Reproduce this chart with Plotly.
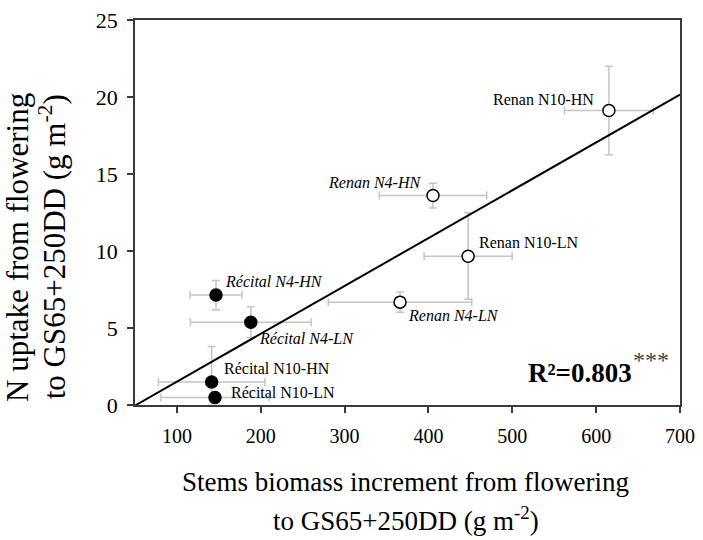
import numpy as np
import plotly.graph_objects as go

# ---- data ----
labels = ["Récital N4-HN", "Récital N4-LN", "Récital N10-HN", "Récital N10-LN",
          "Renan N4-LN", "Renan N10-LN", "Renan N4-HN", "Renan N10-HN"]
cultivar = ["Récital"] * 4 + ["Renan"] * 4
stem_biomass = [146.6, 188.1, 141.4, 145.4, 366.1, 447.3, 405.4, 615.2]
stem_err = [31, 72, 63.5, 64.5, 85.5, 52.5, 64, 53]
n_uptake = [7.14, 5.38, 1.50, 0.49, 6.68, 9.66, 13.60, 19.12]
n_err = [0.95, 1.0, 2.3, 0.3, 0.65, 2.8, 0.8, 2.87]
italic = [True, True, False, False, True, False, True, False]
r2_text = "R²=0.803"
signif = "***"
x_title = ["Stems biomass increment from flowering", "to GS65+250DD (g m<sup>-2</sup>)"]
y_title = ["N uptake from flowering", "to GS65+250DD (g m<sup>-2</sup>)"]
x_ticks = [100, 200, 300, 400, 500, 600, 700]
y_ticks = [0, 5, 10, 15, 20, 25]

FONT = "Liberation Serif"
fig = go.Figure()

for cv, fill in [("Récital", "black"), ("Renan", "white")]:
    idx = [i for i, c in enumerate(cultivar) if c == cv]
    fig.add_trace(go.Scatter(
        x=[stem_biomass[i] for i in idx],
        y=[n_uptake[i] for i in idx],
        mode="markers",
        marker=dict(size=12, color=fill, line=dict(color="black", width=1.5)),
        error_x=dict(type="data", array=[stem_err[i] for i in idx],
                     color="#c4c4c4", thickness=1.5, width=4),
        error_y=dict(type="data", array=[n_err[i] for i in idx],
                     color="#c4c4c4", thickness=1.5, width=4),
        showlegend=False,
    ))

# regression line fitted from data
slope, intercept = np.polyfit(stem_biomass, n_uptake, 1)
xl = np.array([50, 700])
fig.add_trace(go.Scatter(x=xl, y=slope * xl + intercept, mode="lines",
                         line=dict(color="black", width=2), showlegend=False))

# point labels
label_pos = {
    "Renan N10-HN": (599.5, 19.85, "right"),
    "Renan N4-HN": (393.6, 14.44, "right"),
    "Renan N10-LN": (458.4, 10.56, "left"),
    "Renan N4-LN": (373.2, 5.84, "left"),
    "Récital N4-HN": (155.5, 8.04, "left"),
    "Récital N4-LN": (195.5, 4.31, "left"),
    "Récital N10-HN": (153.2, 2.34, "left"),
    "Récital N10-LN": (162.2, 0.81, "left"),
}
for lab, it in zip(labels, italic):
    x, y, anc = label_pos[lab]
    fig.add_annotation(x=x, y=y, xref="x", yref="y", text=f"<i>{lab}</i>" if it else lab,
                       showarrow=False, xanchor=anc, yanchor="middle",
                       font=dict(family=FONT, size=16, color="black"))

fig.add_annotation(x=516, y=2.06, xref="x", yref="y", text=f"<b>{r2_text}</b>",
                   showarrow=False, xanchor="left", yanchor="middle",
                   font=dict(family=FONT, size=27, color="black"))
fig.add_annotation(x=641, y=2.9, xref="x", yref="y", text=signif,
                   showarrow=False, xanchor="left", yanchor="middle",
                   font=dict(family=FONT, size=24, color="#444444"))

# axis titles (two lines each)
for txt, yp in zip(x_title, [-0.2, -0.297]):
    fig.add_annotation(x=0.497, y=yp, xref="paper", yref="paper", text=txt,
                       showarrow=False, xanchor="center", yanchor="middle",
                       font=dict(family=FONT, size=27, color="black"))
for txt, xp in zip(y_title, [-0.217, -0.152]):
    fig.add_annotation(x=xp, y=0.41, xref="paper", yref="paper", text=txt, textangle=-90,
                       showarrow=False, xanchor="center", yanchor="middle",
                       font=dict(family=FONT, size=31, color="black"))

axis_common = dict(showline=True, mirror=True, linecolor="#3a3a3a", linewidth=1.5,
                   ticks="outside", ticklen=6, tickcolor="#3a3a3a", tickwidth=1.5,
                   showgrid=False, zeroline=False, ticklabeloverflow="allow")

fig.update_layout(
    width=703, height=540,
    margin=dict(l=135, r=16, t=8, b=135),
    plot_bgcolor="white", paper_bgcolor="white",
    xaxis=dict(range=[50, 700], tickvals=x_ticks, **axis_common, ticklabelstandoff=6,
               tickfont=dict(family=FONT, size=20, color="black")),
    yaxis=dict(range=[0, 25], tickvals=y_ticks, **axis_common, ticklabelstandoff=5,
               tickfont=dict(family=FONT, size=22, color="black")),
)

fig.write_html("out.html", config={"displayModeBar": False},
               post_script="document.body.style.margin='0';document.body.style.overflow='hidden';")
